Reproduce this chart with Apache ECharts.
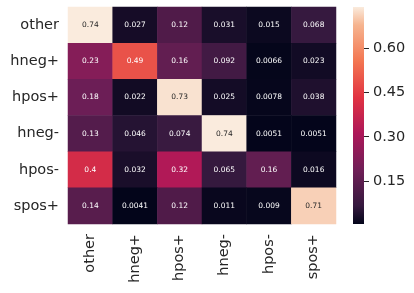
<!DOCTYPE html>
<html><head><meta charset="utf-8">
<script src="https://cdn.jsdelivr.net/npm/echarts@6/dist/echarts.min.js"></script>
<style>html,body{margin:0;padding:0;background:#fff}#c{width:414px;height:293px}</style>
</head><body><div id="c"></div>
<script>
const rowLabels = ['other','hneg+','hpos+','hneg-','hpos-','spos+'];
const colLabels = ['other','hneg+','hpos+','hneg-','hpos-','spos+'];
const rowOther = [0.74,0.027,0.12,0.031,0.015,0.068];
const rowHnegP = [0.23,0.49,0.16,0.092,0.0066,0.023];
const rowHposP = [0.18,0.022,0.73,0.025,0.0078,0.038];
const rowHnegM = [0.13,0.046,0.074,0.74,0.0051,0.0051];
const rowHposM = [0.4,0.032,0.32,0.065,0.16,0.016];
const rowSposP = [0.14,0.0041,0.12,0.011,0.009,0.71];
const colorbarTicks = [0.15,0.30,0.45,0.60];
const vmin = 0.0041, vmax = 0.74;

const matrix = [rowOther,rowHnegP,rowHposP,rowHnegM,rowHposM,rowSposP];
const stops = [[0,'#03051A'],[0.083,'#35193e'],[0.25,'#701f57'],[0.417,'#ad1759'],[0.583,'#e13342'],[0.75,'#f37651'],[0.917,'#f6b48f'],[1,'#FAEBDD']];
function hex2rgb(h){return [1,3,5].map(i=>parseInt(h.substr(i,2),16));}
function cmap(t){
  t=Math.max(0,Math.min(1,t));
  for(let i=1;i<stops.length;i++){
    if(t<=stops[i][0]){
      const a=stops[i-1],b=stops[i];const f=(t-a[0])/(b[0]-a[0]);
      const ca=hex2rgb(a[1]),cb=hex2rgb(b[1]);
      return 'rgb('+ca.map((v,k)=>Math.round(v+(cb[k]-v)*f)).join(',')+')';
    }
  }
  return stops[stops.length-1][1];
}
const samples=[];for(let i=0;i<=60;i++)samples.push(cmap(i/60));
const data=[];
matrix.forEach((row,r)=>row.forEach((v,c)=>{
  const t=(v-vmin)/(vmax-vmin);
  data.push({value:[c,r,v],label:{color:t>0.78?'#262626':'#ffffff'}});
}));
const font='DejaVu Sans';
const chart=echarts.init(document.getElementById('c'),null,{renderer:'canvas'});
chart.setOption({
  backgroundColor:'#fff',
  animation:false,
  grid:[{left:68,top:7,width:268,height:217},{left:353,top:7,width:11,height:217}],
  xAxis:[{type:'category',data:colLabels,gridIndex:0,axisLine:{show:false},axisTick:{show:false},
    axisLabel:{rotate:90,margin:10,fontSize:14.5,fontFamily:font,color:'#262626'},splitLine:{show:false}},
    {type:'category',data:[''],gridIndex:1,show:false}],
  yAxis:[{type:'category',data:rowLabels,inverse:true,gridIndex:0,axisLine:{show:false},axisTick:{show:false},
    axisLabel:{margin:9,fontSize:14.5,fontFamily:font,color:'#262626'},splitLine:{show:false}},
    {type:'value',gridIndex:1,min:vmin,max:vmax,position:'right',axisLine:{show:false},
     splitLine:{show:false},
     axisTick:{show:true,length:5,lineStyle:{color:'#262626',width:1},customValues:colorbarTicks},
     axisLabel:{margin:9,fontSize:14.5,fontFamily:font,color:'#262626',customValues:colorbarTicks,formatter:v=>v.toFixed(2)}}],
  visualMap:{show:false,type:'continuous',min:vmin,max:vmax,dimension:2,seriesIndex:0,inRange:{color:samples}},
  graphic:[{type:'rect',left:353,top:7,shape:{width:11,height:217},z:-1,
    style:{fill:new echarts.graphic.LinearGradient(0,1,0,0,stops.map(s=>({offset:s[0],color:s[1]})))}}],
  series:[{type:'heatmap',xAxisIndex:0,yAxisIndex:0,data:data,
    label:{show:true,fontSize:7.5,fontFamily:font,formatter:p=>String(p.value[2])},
    itemStyle:{borderWidth:0}}]
});
</script></body></html>
